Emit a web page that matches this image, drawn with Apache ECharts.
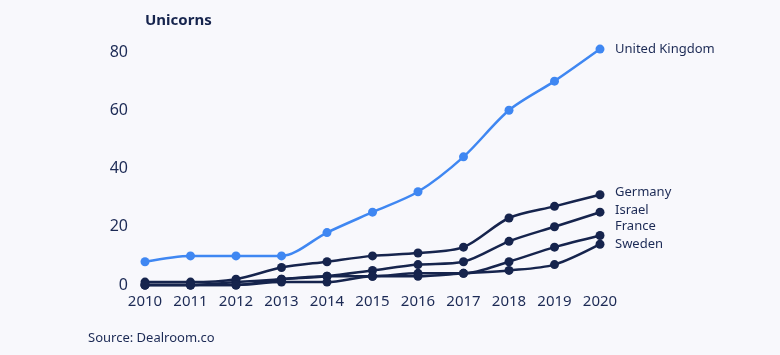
<!DOCTYPE html>
<html><head><meta charset="utf-8">
<script src="https://cdn.jsdelivr.net/npm/echarts@6/dist/echarts.min.js"></script>
<style>html,body{margin:0;padding:0;background:#f8f8fc;}#c{width:780px;height:355px;}</style>
</head><body><div id="c"></div>
<script>
const years = ['2010','2011','2012','2013','2014','2015','2016','2017','2018','2019','2020'];
const uk      = [8, 10, 10, 10, 18, 25, 32, 44, 60, 70, 81];
const germany = [1, 1, 2, 6, 8, 10, 11, 13, 23, 27, 31];
const israel  = [0, 0, 1, 2, 3, 5, 7, 8, 15, 20, 25];
const france  = [0, 0, 0, 2, 3, 3, 4, 4, 8, 13, 17];
const sweden  = [0, 0, 0, 1, 1, 3, 3, 4, 5, 7, 14];
const yTicks = [0, 20, 40, 60, 80];

const navy = '#16244d';
const blue = '#3f87f2';
const txt = '#1c2a55';
const font = 'Noto Sans';

function s(name, data, color, offY) {
  return {
    name, type: 'line', data, smooth: 0.3, clip: false,
    symbol: 'circle', symbolSize: 9,
    lineStyle: { color, width: 2.5 },
    itemStyle: { color },
    endLabel: { show: true, formatter: '{a}', distance: 15, offset: [0, offY],
      color: txt, fontFamily: font, fontSize: 13 },
    z: color === blue ? 3 : 2
  };
}

const chart = echarts.init(document.getElementById('c'));
chart.setOption({
  backgroundColor: '#f8f8fc',
  animation: false,
  title: [
    { text: 'Unicorns', left: 140, top: 8, textStyle: { fontFamily: font, fontSize: 15, fontWeight: 'bold', color: navy } },
    { text: 'Source: Dealroom.co', left: 83, top: 327, textStyle: { fontFamily: font, fontSize: 13, fontWeight: 'normal', color: txt } }
  ],
  grid: { left: 145, right: 180, top: 52, bottom: 70, containLabel: false },
  xAxis: {
    type: 'category', data: years, boundaryGap: false,
    axisLine: { show: false }, axisTick: { show: false },
    axisLabel: { color: txt, fontFamily: font, fontSize: 15, margin: 9 }
  },
  yAxis: {
    type: 'value', min: yTicks[0], max: yTicks[yTicks.length - 1], interval: 20,
    axisLine: { show: false }, axisTick: { show: false }, splitLine: { show: false },
    axisLabel: { color: txt, fontFamily: font, fontSize: 16, margin: 17 }
  },
  series: [
    s('United Kingdom', uk, blue, 0),
    s('Germany', germany, navy, -2),
    s('Israel', israel, navy, -2),
    s('France', france, navy, -9),
    s('Sweden', sweden, navy, 0)
  ]
});
</script></body></html>
